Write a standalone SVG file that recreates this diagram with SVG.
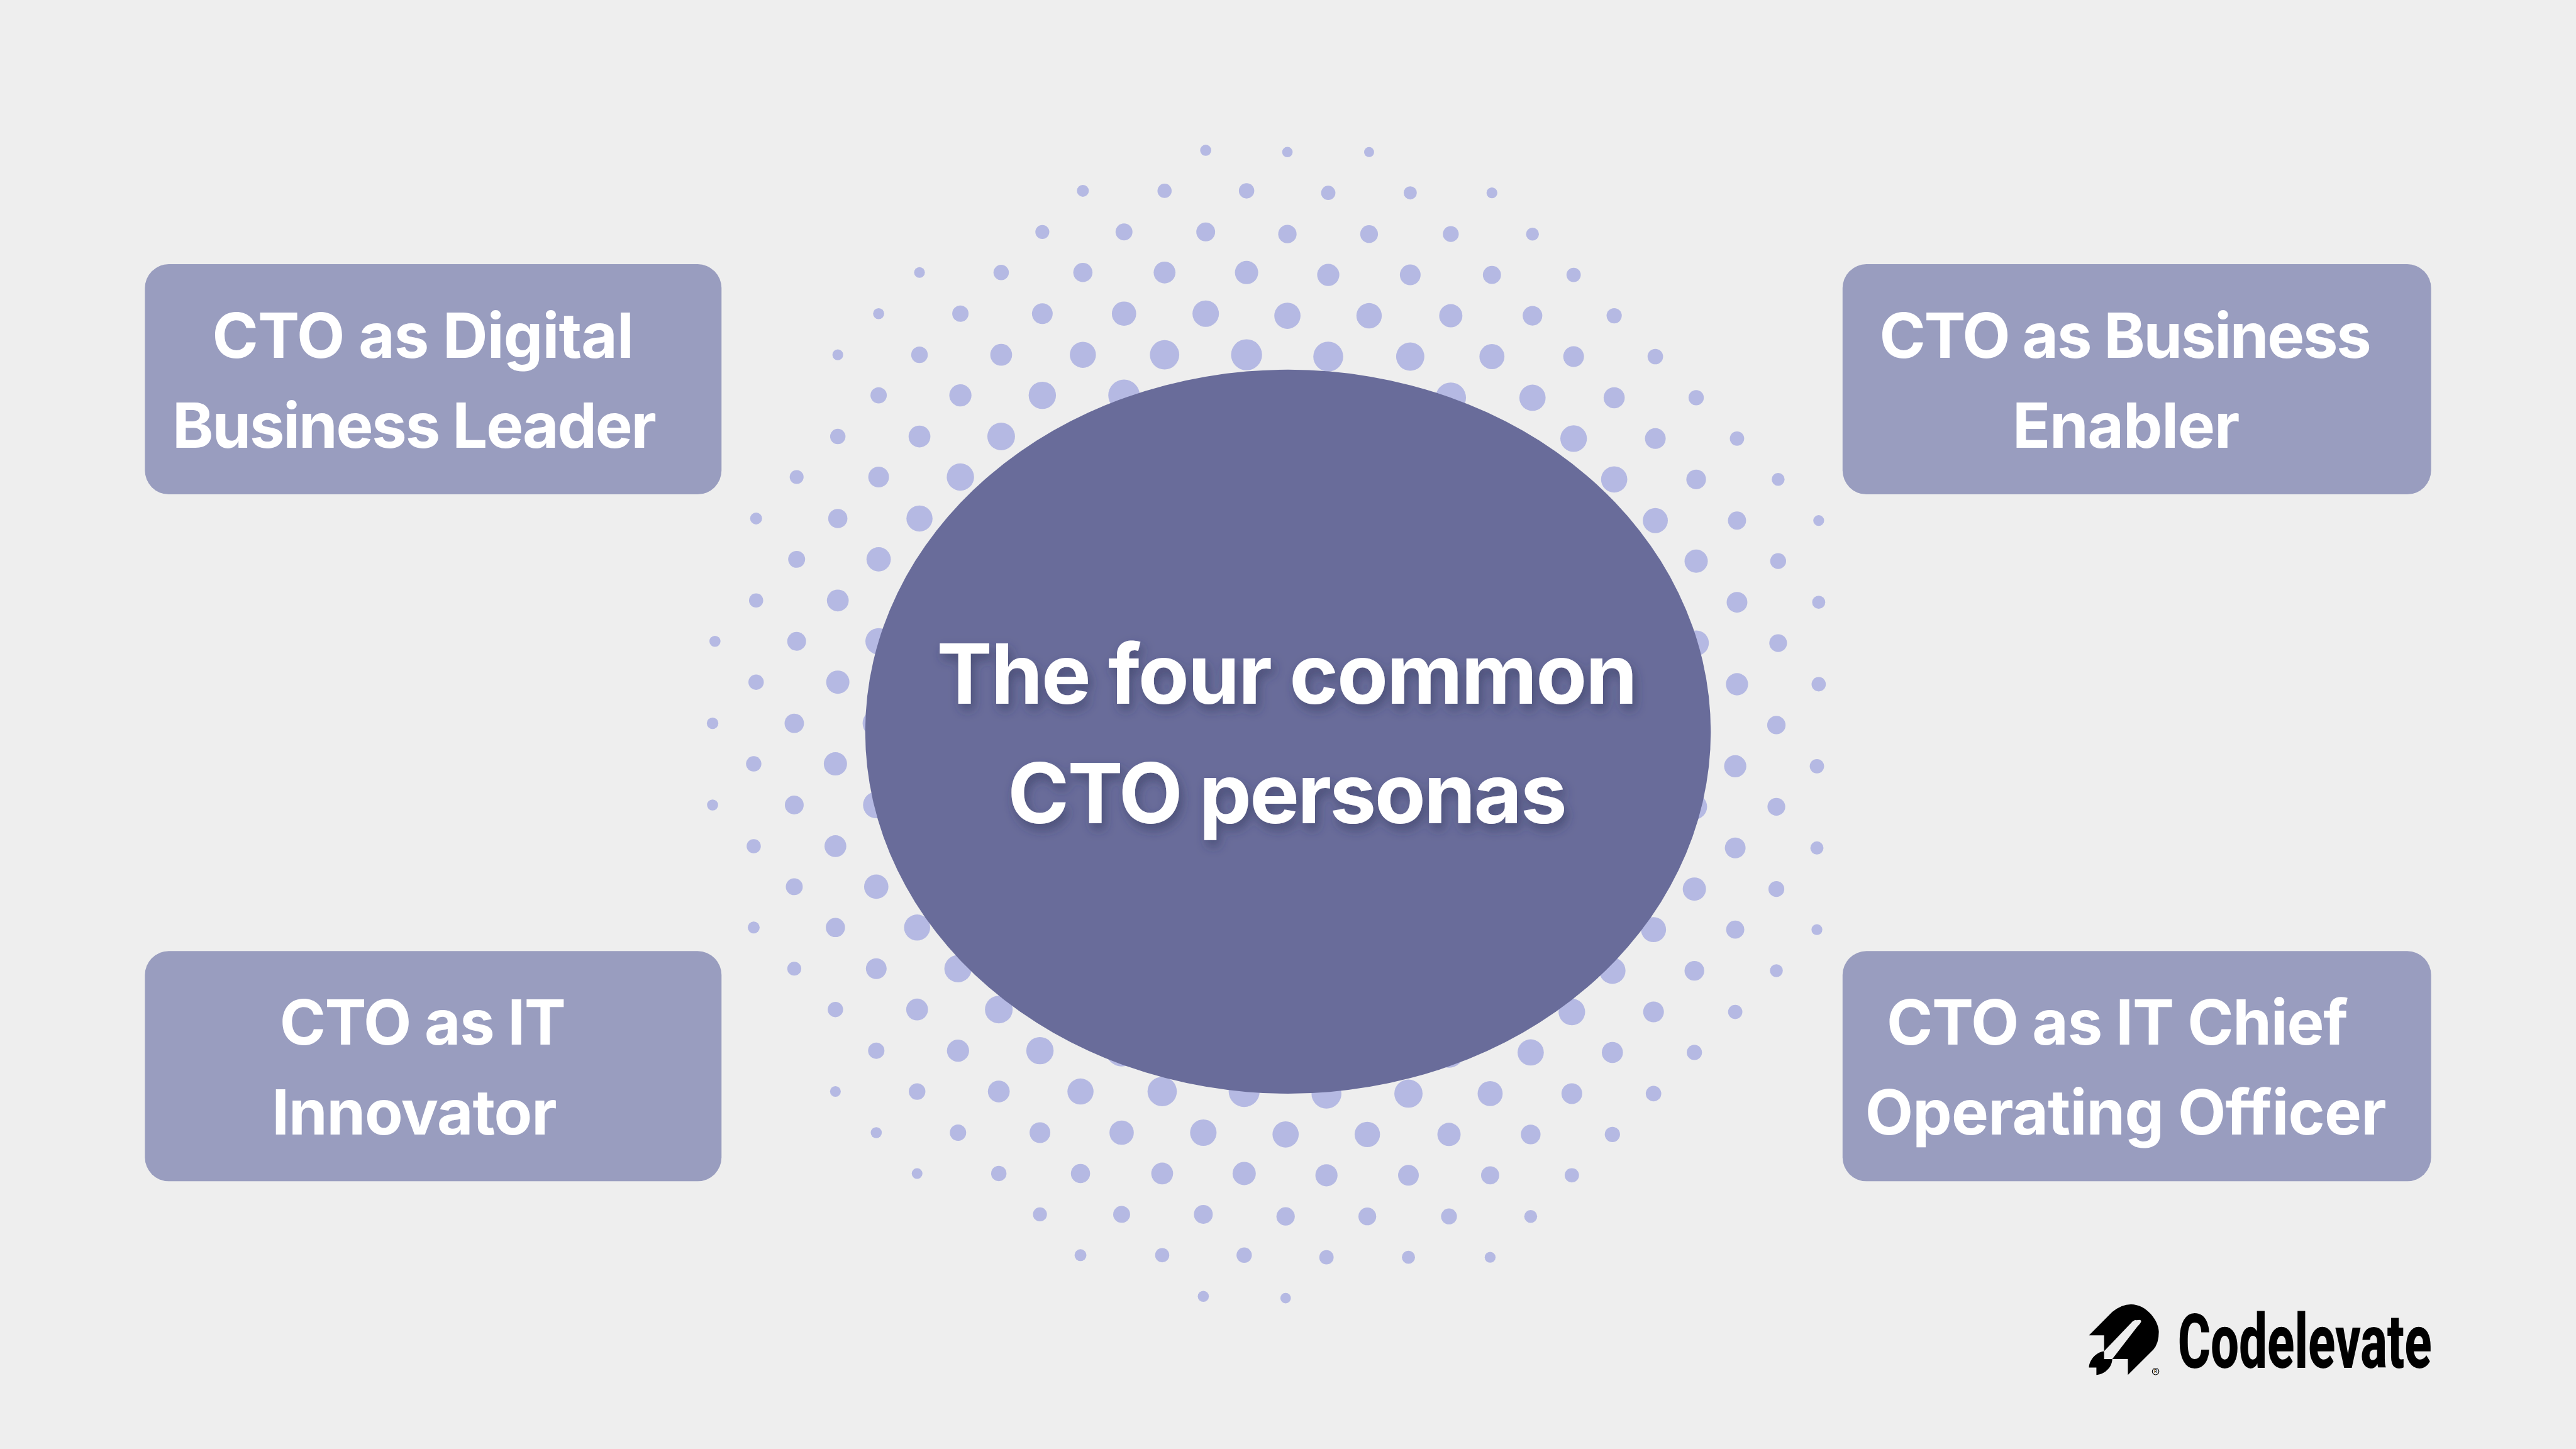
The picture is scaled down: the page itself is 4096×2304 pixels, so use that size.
<svg xmlns="http://www.w3.org/2000/svg" width="4096" height="2304" viewBox="0 0 4096 2304">
<defs>
<filter id="sh" x="-10%" y="-30%" width="120%" height="170%"><feDropShadow dx="5" dy="10" stdDeviation="9" flood-color="#33365a" flood-opacity="0.55"/></filter>
</defs>
<style>
.d{fill:#b5b9e3}
.b{fill:#999dbf}
.e{fill:#696c9a}
text{font-family:"Inter","Liberation Sans",sans-serif;fill:#fff;font-weight:700}
.t{font-size:139.5px}
.l{font-size:104.5px}
.k{fill:#000}
</style>
<g transform="scale(0.948148)">
<rect width="4320" height="2430" fill="#eeeeee"/>
<g id="dots">
<g id="dots-top-left">
<circle class="d" cx="2022" cy="252" r="9.3"/>
<circle class="d" cx="1816" cy="320" r="10"/><circle class="d" cx="1953" cy="320" r="11.9"/><circle class="d" cx="2090.5" cy="320" r="12.9"/>
<circle class="d" cx="1748" cy="389" r="11.7"/><circle class="d" cx="1885" cy="389" r="14.2"/><circle class="d" cx="2022" cy="389" r="15.8"/>
<circle class="d" cx="1542" cy="457" r="9"/><circle class="d" cx="1679" cy="457" r="12.9"/><circle class="d" cx="1816" cy="457" r="16.1"/><circle class="d" cx="1953" cy="457" r="18.3"/><circle class="d" cx="2090.5" cy="457" r="19.5"/>
<circle class="d" cx="1473.5" cy="526" r="9.3"/><circle class="d" cx="1610.6" cy="526" r="13.7"/><circle class="d" cx="1748" cy="526" r="17.4"/><circle class="d" cx="1885" cy="526" r="20.4"/><circle class="d" cx="2022" cy="526" r="22.2"/>
<circle class="d" cx="1405" cy="595" r="9"/><circle class="d" cx="1542" cy="595" r="13.9"/><circle class="d" cx="1679" cy="595" r="18.3"/><circle class="d" cx="1816" cy="595" r="21.9"/><circle class="d" cx="1953" cy="595" r="24.6"/><circle class="d" cx="2090.5" cy="595" r="26"/>
<circle class="d" cx="1473.5" cy="663" r="13.7"/><circle class="d" cx="1610.6" cy="663" r="18.6"/><circle class="d" cx="1748" cy="663" r="22.9"/><circle class="d" cx="1885" cy="663" r="26.4"/>
<circle class="d" cx="1405" cy="732" r="12.9"/><circle class="d" cx="1542" cy="732" r="18.3"/><circle class="d" cx="1679" cy="732" r="23.2"/>
<circle class="d" cx="1336" cy="800" r="11.7"/><circle class="d" cx="1473.5" cy="800" r="17.4"/><circle class="d" cx="1610.6" cy="800" r="22.9"/>
<circle class="d" cx="1268" cy="869.5" r="10"/><circle class="d" cx="1405" cy="869.5" r="16.1"/><circle class="d" cx="1542" cy="869.5" r="21.9"/>
<circle class="d" cx="1336" cy="938" r="14.2"/><circle class="d" cx="1473.5" cy="938" r="20.4"/>
<circle class="d" cx="1268" cy="1007" r="11.9"/><circle class="d" cx="1405" cy="1007" r="18.3"/>
<circle class="d" cx="1199" cy="1075.5" r="9.3"/><circle class="d" cx="1336" cy="1075.5" r="15.8"/><circle class="d" cx="1473.5" cy="1075.5" r="22.2"/>
<circle class="d" cx="1268" cy="1144" r="12.9"/><circle class="d" cx="1405" cy="1144" r="19.5"/>
</g>
<g id="dots-top-right">
<circle class="d" cx="2159" cy="255" r="8.8"/><circle class="d" cx="2296" cy="255" r="8.4"/>
<circle class="d" cx="2227.5" cy="323.5" r="12"/><circle class="d" cx="2365" cy="323.5" r="11"/><circle class="d" cx="2502" cy="323.5" r="9.1"/>
<circle class="d" cx="2159" cy="392.5" r="15.4"/><circle class="d" cx="2296" cy="392.5" r="14.9"/><circle class="d" cx="2433" cy="392.5" r="13.3"/><circle class="d" cx="2570" cy="392.5" r="10.8"/>
<circle class="d" cx="2227.5" cy="461" r="18.6"/><circle class="d" cx="2365" cy="461" r="17.4"/><circle class="d" cx="2502" cy="461" r="15.2"/><circle class="d" cx="2639" cy="461" r="12"/>
<circle class="d" cx="2159" cy="529.5" r="22"/><circle class="d" cx="2296" cy="529.5" r="21.3"/><circle class="d" cx="2433" cy="529.5" r="19.5"/><circle class="d" cx="2570" cy="529.5" r="16.5"/><circle class="d" cx="2707" cy="529.5" r="12.8"/>
<circle class="d" cx="2227.5" cy="598" r="25.1"/><circle class="d" cx="2365" cy="598" r="23.7"/><circle class="d" cx="2502" cy="598" r="21"/><circle class="d" cx="2639" cy="598" r="17.4"/><circle class="d" cx="2776" cy="598" r="13"/>
<circle class="d" cx="2433" cy="667" r="25.5"/><circle class="d" cx="2570" cy="667" r="22"/><circle class="d" cx="2707" cy="667" r="17.7"/><circle class="d" cx="2844.5" cy="667" r="12.8"/>
<circle class="d" cx="2639" cy="735.5" r="22.3"/><circle class="d" cx="2776" cy="735.5" r="17.4"/><circle class="d" cx="2913" cy="735.5" r="12"/>
<circle class="d" cx="2707" cy="804" r="22"/><circle class="d" cx="2844.5" cy="804" r="16.5"/><circle class="d" cx="2982" cy="804" r="10.8"/>
<circle class="d" cx="2776" cy="873" r="21"/><circle class="d" cx="2913" cy="873" r="15.2"/><circle class="d" cx="3050" cy="873" r="9.1"/>
<circle class="d" cx="2844.5" cy="941" r="19.5"/><circle class="d" cx="2982" cy="941" r="13.3"/>
<circle class="d" cx="2913" cy="1010" r="17.4"/><circle class="d" cx="3050" cy="1010" r="11"/>
<circle class="d" cx="2844.5" cy="1078.5" r="21.3"/><circle class="d" cx="2982" cy="1078.5" r="14.9"/>
<circle class="d" cx="2913" cy="1147.5" r="18.6"/><circle class="d" cx="3050" cy="1147.5" r="12"/>
</g>
<g id="dots-bottom-left">
<circle class="d" cx="1195" cy="1213" r="9.7"/><circle class="d" cx="1332" cy="1213" r="16.3"/><circle class="d" cx="1469.5" cy="1213" r="22.9"/>
<circle class="d" cx="1264" cy="1281" r="12.9"/><circle class="d" cx="1401" cy="1281" r="19.5"/>
<circle class="d" cx="1195" cy="1350" r="9.3"/><circle class="d" cx="1332" cy="1350" r="15.8"/><circle class="d" cx="1469.5" cy="1350" r="22.2"/>
<circle class="d" cx="1264" cy="1419" r="11.9"/><circle class="d" cx="1401" cy="1419" r="18.3"/>
<circle class="d" cx="1332" cy="1487" r="14.2"/><circle class="d" cx="1469.5" cy="1487" r="20.4"/>
<circle class="d" cx="1264" cy="1555.5" r="10"/><circle class="d" cx="1401" cy="1555.5" r="16.1"/><circle class="d" cx="1538" cy="1555.5" r="21.9"/>
<circle class="d" cx="1332" cy="1624.5" r="11.7"/><circle class="d" cx="1469.5" cy="1624.5" r="17.4"/><circle class="d" cx="1606.6" cy="1624.5" r="22.9"/>
<circle class="d" cx="1401" cy="1693" r="12.9"/><circle class="d" cx="1538" cy="1693" r="18.3"/><circle class="d" cx="1675" cy="1693" r="23.2"/>
<circle class="d" cx="1469.5" cy="1762" r="13.7"/><circle class="d" cx="1606.6" cy="1762" r="18.6"/><circle class="d" cx="1744" cy="1762" r="22.9"/><circle class="d" cx="1881" cy="1762" r="26.4"/>
<circle class="d" cx="1401" cy="1830.5" r="9"/><circle class="d" cx="1538" cy="1830.5" r="13.9"/><circle class="d" cx="1675" cy="1830.5" r="18.3"/><circle class="d" cx="1812" cy="1830.5" r="21.9"/><circle class="d" cx="1949" cy="1830.5" r="24.6"/><circle class="d" cx="2086.5" cy="1830.5" r="26"/>
<circle class="d" cx="1469.5" cy="1899.5" r="9.3"/><circle class="d" cx="1606.6" cy="1899.5" r="13.7"/><circle class="d" cx="1744" cy="1899.5" r="17.4"/><circle class="d" cx="1881" cy="1899.5" r="20.4"/><circle class="d" cx="2018" cy="1899.5" r="22.2"/>
<circle class="d" cx="1538" cy="1968" r="9"/><circle class="d" cx="1675" cy="1968" r="12.9"/><circle class="d" cx="1812" cy="1968" r="16.1"/><circle class="d" cx="1949" cy="1968" r="18.3"/><circle class="d" cx="2086.5" cy="1968" r="19.5"/>
<circle class="d" cx="1744" cy="2036.5" r="11.7"/><circle class="d" cx="1881" cy="2036.5" r="14.2"/><circle class="d" cx="2018" cy="2036.5" r="15.8"/>
<circle class="d" cx="1812" cy="2105" r="10"/><circle class="d" cx="1949" cy="2105" r="11.9"/><circle class="d" cx="2086.5" cy="2105" r="12.9"/>
<circle class="d" cx="2018" cy="2174" r="9.3"/>
</g>
<g id="dots-bottom-right">
<circle class="d" cx="2979" cy="1216" r="15.4"/>
<circle class="d" cx="2910" cy="1285" r="18.6"/><circle class="d" cx="3047" cy="1285" r="12"/>
<circle class="d" cx="2841.5" cy="1353" r="21.3"/><circle class="d" cx="2979" cy="1353" r="14.9"/>
<circle class="d" cx="2910" cy="1422" r="17.4"/><circle class="d" cx="3047" cy="1422" r="11"/>
<circle class="d" cx="2841.5" cy="1491" r="19.5"/><circle class="d" cx="2979" cy="1491" r="13.3"/>
<circle class="d" cx="2773" cy="1559" r="21"/><circle class="d" cx="2910" cy="1559" r="15.2"/><circle class="d" cx="3047" cy="1559" r="9.1"/>
<circle class="d" cx="2704" cy="1628" r="22"/><circle class="d" cx="2841.5" cy="1628" r="16.5"/><circle class="d" cx="2979" cy="1628" r="10.8"/>
<circle class="d" cx="2636" cy="1697" r="22.3"/><circle class="d" cx="2773" cy="1697" r="17.4"/><circle class="d" cx="2910" cy="1697" r="12"/>
<circle class="d" cx="2430" cy="1765" r="25.5"/><circle class="d" cx="2567" cy="1765" r="22"/><circle class="d" cx="2704" cy="1765" r="17.7"/><circle class="d" cx="2841.5" cy="1765" r="12.8"/>
<circle class="d" cx="2224.5" cy="1834" r="25.1"/><circle class="d" cx="2362" cy="1834" r="23.7"/><circle class="d" cx="2499" cy="1834" r="21"/><circle class="d" cx="2636" cy="1834" r="17.4"/><circle class="d" cx="2773" cy="1834" r="13"/>
<circle class="d" cx="2156" cy="1902.5" r="22"/><circle class="d" cx="2293" cy="1902.5" r="21.3"/><circle class="d" cx="2430" cy="1902.5" r="19.5"/><circle class="d" cx="2567" cy="1902.5" r="16.5"/><circle class="d" cx="2704" cy="1902.5" r="12.8"/>
<circle class="d" cx="2224.5" cy="1971" r="18.6"/><circle class="d" cx="2362" cy="1971" r="17.4"/><circle class="d" cx="2499" cy="1971" r="15.2"/><circle class="d" cx="2636" cy="1971" r="12"/>
<circle class="d" cx="2156" cy="2040" r="15.4"/><circle class="d" cx="2293" cy="2040" r="14.9"/><circle class="d" cx="2430" cy="2040" r="13.3"/><circle class="d" cx="2567" cy="2040" r="10.8"/>
<circle class="d" cx="2224.5" cy="2108.5" r="12"/><circle class="d" cx="2362" cy="2108.5" r="11"/><circle class="d" cx="2499" cy="2108.5" r="9.1"/>
<circle class="d" cx="2156" cy="2177" r="8.8"/>
</g>
</g>
<g id="center">
<ellipse class="e" cx="2160" cy="1227" rx="709" ry="607"/>
<text class="t" x="1571" y="1180" textLength="1175" filter="url(#sh)">The four common</text>
<text class="t" x="1690" y="1380.5" textLength="938" filter="url(#sh)">CTO personas</text>
</g>
<g id="box-digital-business-leader">
<rect class="b" x="243" y="443" width="967" height="386" rx="40"/>
<text class="l" x="356" y="600" textLength="707">CTO as Digital</text>
<text class="l" x="289" y="751" textLength="812">Business Leader</text>
</g>
<g id="box-business-enabler">
<rect class="b" x="3090" y="443" width="987" height="386" rx="40"/>
<text class="l" x="3152" y="600" textLength="825">CTO as Business</text>
<text class="l" x="3375" y="751" textLength="381">Enabler</text>
</g>
<g id="box-it-innovator">
<rect class="b" x="243" y="1595" width="967" height="386" rx="40"/>
<text class="l" x="469" y="1752" textLength="480">CTO as IT</text>
<text class="l" x="456" y="1903" textLength="478">Innovator</text>
</g>
<g id="box-it-coo">
<rect class="b" x="3090" y="1595" width="987" height="386" rx="40"/>
<text class="l" x="3164" y="1752" textLength="774">CTO as IT Chief</text>
<text class="l" x="3128" y="1903" textLength="874">Operating Officer</text>
</g>
<g id="logo">
<path class="k" d="M3503.3 2239.3L3542.3 2200Q3558 2187.3 3573.6 2187.3C3600 2187.3 3620.4 2215 3620.4 2233.3Q3620.4 2253 3611.2 2263.3L3568.5 2305.7V2279.3H3542.3L3584 2225Q3598 2211 3583 2214Q3580 2213 3576.5 2216L3528.6 2266V2239.3Z"/>
<path class="k" d="M3528.6 2266V2279.3H3542.3C3542 2295 3527 2305.7 3515.7 2305.7V2293.3H3503.3C3503.3 2283 3513 2268 3528.6 2266Z"/>
<circle cx="3615" cy="2300" r="5.5" fill="none" stroke="#000" stroke-width="1.2"/>
<text x="3615" y="2302.8" style="font-size:8px;fill:#000;text-anchor:middle;font-weight:400">R</text>
<text x="3652" y="2294" textLength="426" lengthAdjust="spacingAndGlyphs" style="font-family:Roboto,'Liberation Sans',sans-serif;font-size:128px;font-weight:800;fill:#000">Codelevate</text>
</g>
</g>
</svg>
